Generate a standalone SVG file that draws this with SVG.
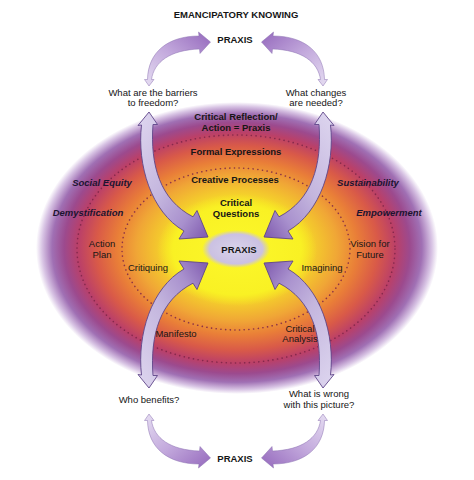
<svg xmlns="http://www.w3.org/2000/svg" width="474" height="480" viewBox="0 0 474 480">
<style>
text{font-family:"Liberation Sans",Arial,sans-serif;font-size:9.5px;fill:#161616;text-anchor:middle}
.b{font-weight:bold}
.bi{font-weight:bold;font-style:italic;fill:#1c1430}
.dot{fill:none;stroke:#7c2448;stroke-width:1.6;stroke-linecap:round;stroke-dasharray:0.1 4.6;opacity:0.85}
.big{fill:url(#gBig);stroke:#5f4589;stroke-width:0.9;stroke-linejoin:round}
.small{fill:url(#gSmall);stroke:#8a70b0;stroke-width:0.5;stroke-linejoin:round}
</style>
<defs>
<radialGradient id="gBg" cx="0.5" cy="0.5" r="0.5">
<stop offset="0" stop-color="#fbf62c"/>
<stop offset="0.3" stop-color="#f7e624"/>
<stop offset="0.38" stop-color="#f4cc2c"/>
<stop offset="0.5" stop-color="#f0a636"/>
<stop offset="0.6" stop-color="#e97e38"/>
<stop offset="0.7" stop-color="#d95a48"/>
<stop offset="0.79" stop-color="#bb4068"/>
<stop offset="0.86" stop-color="#9c4a8e"/>
<stop offset="0.92" stop-color="#a070b4"/>
<stop offset="0.97" stop-color="#d8c4e4"/>
<stop offset="1" stop-color="#ffffff"/>
</radialGradient>
<radialGradient id="gYel" cx="0.5" cy="0.5" r="0.5">
<stop offset="0" stop-color="#fcf82a"/>
<stop offset="0.8" stop-color="#f9f124"/>
<stop offset="1" stop-color="#f7e624" stop-opacity="0"/>
</radialGradient>
<radialGradient id="gCore" cx="0.5" cy="0.5" r="0.5">
<stop offset="0" stop-color="#d8d2ea"/>
<stop offset="0.78" stop-color="#cbc1e2"/>
<stop offset="1" stop-color="#cbc1e2" stop-opacity="0"/>
</radialGradient>
<linearGradient id="gBig" x1="0.1" y1="0" x2="0.9" y2="1">
<stop offset="0" stop-color="#dcd4ee"/>
<stop offset="0.5" stop-color="#c4b6de"/>
<stop offset="0.8" stop-color="#a890cd"/>
<stop offset="1" stop-color="#8562b3"/>
</linearGradient>
<linearGradient id="gSmall" x1="0" y1="1" x2="1" y2="0">
<stop offset="0" stop-color="#e6def2"/>
<stop offset="0.5" stop-color="#c2a8dc"/>
<stop offset="1" stop-color="#9468bc"/>
</linearGradient>
<path id="bigArrow" class="big" d="M149,112 L157.5,124.5 L153,124.5 C150,165 160,200 193,216.8 L197,210.5 L208,237 L179,239 L184,231 C151,212 137,165 141.5,125 L138,125.5 Z"/>
<path id="smallArrow" class="small" d="M149,86 L154,79.5 L151.5,79.5 C154,62 170,50 199.5,49 L200,53.5 L210.5,42 L198.5,32 L199,36 C168,36 148,52 147.5,79.5 L144.5,79.5 Z"/>
</defs>

<g id="field">
<ellipse cx="237" cy="248" rx="201" ry="146" fill="url(#gBg)"/>
<ellipse cx="237" cy="250" rx="80" ry="56" fill="url(#gYel)"/>
<ellipse cx="236" cy="249" rx="159" ry="114" class="dot"/>
<ellipse cx="236" cy="249" rx="114" ry="81" class="dot"/>
</g>

<g id="connectors">
<use href="#bigArrow"/>
<use href="#bigArrow" transform="translate(472,0) scale(-1,1)"/>
<use href="#bigArrow" transform="translate(0,500) scale(1,-1)"/>
<use href="#bigArrow" transform="translate(472,500) scale(-1,-1)"/>
<use href="#smallArrow"/>
<use href="#smallArrow" transform="translate(472,0) scale(-1,1)"/>
<use href="#smallArrow" transform="translate(0,500) scale(1,-1)"/>
<use href="#smallArrow" transform="translate(472,500) scale(-1,-1)"/>
</g>

<g id="title"><text class="b" x="236" y="18">EMANCIPATORY KNOWING</text></g>
<g id="praxis-top"><text class="b" x="235" y="43" font-size="10">PRAXIS</text></g>
<g id="barriers"><text x="153" y="96">What are the barriers</text><text x="153" y="106">to freedom?</text></g>
<g id="changes"><text x="316" y="96">What changes</text><text x="316" y="106">are needed?</text></g>
<g id="reflection"><text class="b" x="236" y="120">Critical Reflection/</text><text class="b" x="236" y="131">Action = Praxis</text></g>
<g id="formal"><text class="b" x="236" y="155">Formal Expressions</text></g>
<g id="creative"><text class="b" x="235" y="183">Creative Processes</text></g>
<g id="social-equity"><text class="bi" x="102" y="186">Social Equity</text></g>
<g id="sustainability"><text class="bi" x="368" y="186">Sustainability</text></g>
<g id="demystification"><text class="bi" x="88" y="216">Demystification</text></g>
<g id="empowerment"><text class="bi" x="389" y="216">Empowerment</text></g>
<g id="critical-questions"><text class="b" x="236" y="206">Critical</text><text class="b" x="236" y="217">Questions</text></g>
<g id="action-plan"><text x="102" y="247">Action</text><text x="102" y="258">Plan</text></g>
<g id="vision"><text x="370" y="247">Vision for</text><text x="370" y="258">Future</text></g>
<g id="praxis-center">
<ellipse cx="236" cy="249" rx="34" ry="19" fill="url(#gCore)"/>
<text class="b" x="239" y="253" font-size="11.5">PRAXIS</text>
</g>
<g id="critiquing"><text x="148" y="271">Critiquing</text></g>
<g id="imagining"><text x="322" y="271">Imagining</text></g>
<g id="manifesto"><text x="176" y="337">Manifesto</text></g>
<g id="critical-analysis"><text x="300" y="332">Critical</text><text x="300" y="342">Analysis</text></g>
<g id="who-benefits"><text x="149" y="403">Who benefits?</text></g>
<g id="wrong"><text x="319" y="397">What is wrong</text><text x="319" y="408">with this picture?</text></g>
<g id="praxis-bottom"><text class="b" x="235" y="462" font-size="10">PRAXIS</text></g>
</svg>
